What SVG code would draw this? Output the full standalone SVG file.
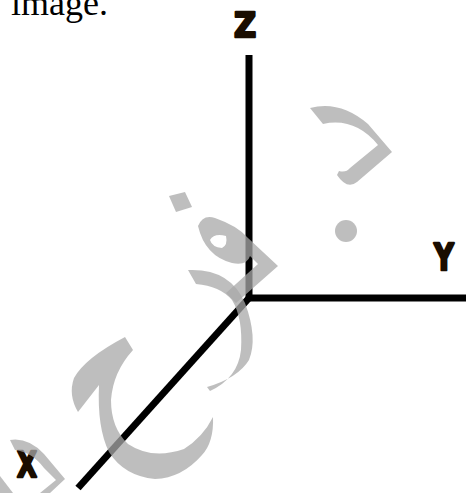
<svg xmlns="http://www.w3.org/2000/svg" width="466" height="493" viewBox="0 0 466 493">
<style>
.axis{stroke:#000;stroke-width:7;fill:none;stroke-linecap:butt;stroke-linejoin:miter}
.lbl{font-family:"DejaVu Sans",sans-serif;font-weight:bold;fill:#1a0d00;stroke:#1a0d00;stroke-width:2.5;stroke-linejoin:round;text-anchor:middle}
.wm{fill:#a8a8a8;opacity:0.75}
.cap{font-family:"Liberation Serif","Times New Roman",serif;font-size:36px;fill:#000}
</style>
<rect width="466" height="493" fill="#fff"/>
<g id="caption"><text class="cap" x="11" y="15">image.</text></g>
<g id="connectors">
<path class="axis" d="M249,55 L249,298 L466,298"/>
<path class="axis" d="M249,298 L78,488"/>
</g>
<g id="label-z"><text class="lbl" font-size="34" transform="translate(245,37) scale(0.9,1)">Z</text></g>
<g id="label-y"><text class="lbl" font-size="38" transform="translate(444,270) scale(0.72,1)">Y</text></g>
<g id="label-x"><text class="lbl" font-size="36" transform="translate(27,477) scale(0.72,1)">X</text></g>
<g id="watermark">
<path class="wm" d="M310,108 Q340,100 368,124 L392,152 L357,182 Q347,190 337,175 L339,171 Q346,173 350,168 L378,145 Q355,117 323,124 Z"/>
<circle class="wm" cx="346" cy="231" r="11"/>
<path class="wm" d="M169,196 L185,192 L192,207 L176,212 Z"/>
<path class="wm" fill-rule="evenodd" d="M198,226 Q203,214 215,218 Q238,226 248,238 L278,266 L236,303 L226,293 L258,264 L250,256 Q247,266 232,263 Q205,256 198,226 Z M210,240 Q214,233 226,236 Q228,245 222,248 Q212,247 210,240 Z"/>
<path class="wm" d="M188,270 Q230,268 245,303 Q258,338 249,360 Q238,378 207,387 L210,391 Q238,378 241,350 Q243,318 232,300 Q220,286 196,284 Z"/>
<path class="wm" d="M125,337 L133,350 Q113,372 111,400 Q111,428 128,444 Q152,460 184,449 Q203,437 213,417 Q214,442 202,455 Q182,478 155,479 Q124,476 109,452 Q97,428 99,385 L78,412 Q68,395 74,378 Q85,358 125,337 Z"/>
<path class="wm" d="M10,440 Q28,437 44,454 L65,479 L50,493 L40,493 L56,480 L44,468 Q32,452 15,450 Z"/>
<path class="wm" d="M0,476 L13,493 L0,493 Z"/>
</g>
</svg>
